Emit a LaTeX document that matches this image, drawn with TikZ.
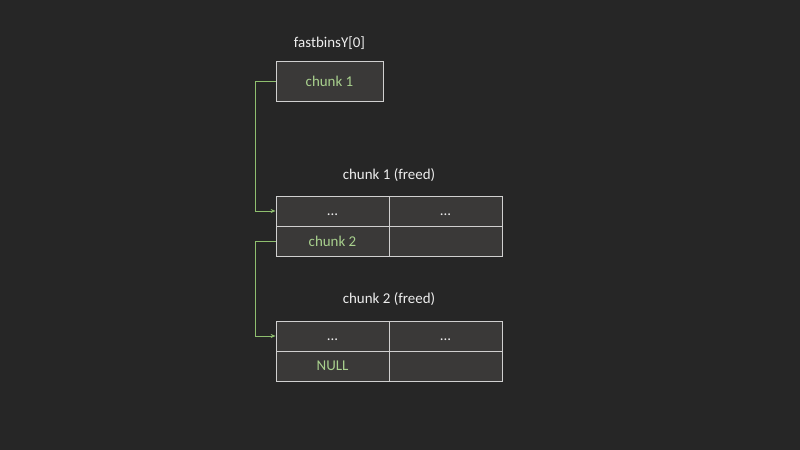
\documentclass[tikz,border=0pt]{standalone}
\usepackage{fontspec}
\setmainfont{Carlito}
\usetikzlibrary{positioning,arrows.meta}
\definecolor{bgdark}{HTML}{262626}
\definecolor{cellfill}{HTML}{3A3938}
\definecolor{cellline}{HTML}{D0D0D0}
\definecolor{ptrgreen}{HTML}{A9D18E}
\definecolor{linkgreen}{HTML}{8FBF6F}
\definecolor{labeltext}{HTML}{EEEEEE}
\newcommand{\celldots}{\raisebox{-5bp}[0pt][0pt]{...}}
\begin{document}
\begin{tikzpicture}
    [x=1bp,y=-1bp,
     every node/.style={font=\fontsize{15}{18}\selectfont,text=labeltext},
     cell/.style={draw=cellline,fill=cellfill,line width=0.8pt,inner sep=0pt,
       minimum width=113bp,minimum height=30bp},
     ptr/.style={text=ptrgreen},
     link/.style={draw=linkgreen,line width=0.8pt,-{Stealth[length=5bp,width=4bp]}}]
    \fill[bgdark] (0,0) rectangle (800,450);
    % fastbin head
    \node (binlabel) at (329.5,43) {fastbinsY[0]};
    \node[cell,ptr,minimum width=107bp,minimum height=40bp] (bin) at (329.5,81) {chunk 1};
    % first freed chunk
    \node (onelabel) at (389,175) {chunk 1 (freed)};
    \node[cell] (onea) at (332.5,211) {\celldots};
    \node[cell] (oneb) at (445.5,211) {\celldots};
    \node[cell,ptr] (onec) at (332.5,241) {chunk 2};
    \node[cell] (oned) at (445.5,241) {};
    % second freed chunk
    \node (twolabel) at (389,299) {chunk 2 (freed)};
    \node[cell] (twoa) at (332.5,336) {\celldots};
    \node[cell] (twob) at (445.5,336) {\celldots};
    \node[cell,ptr] (twoc) at (332.5,366) {NULL};
    \node[cell] (twod) at (445.5,366) {};
    % fd links
    \draw[link] (bin.west) -- ++(-20,0) |- (onea.west);
    \draw[link] (onec.west) -- ++(-20,0) |- (twoa.west);
\end{tikzpicture}
\end{document}
